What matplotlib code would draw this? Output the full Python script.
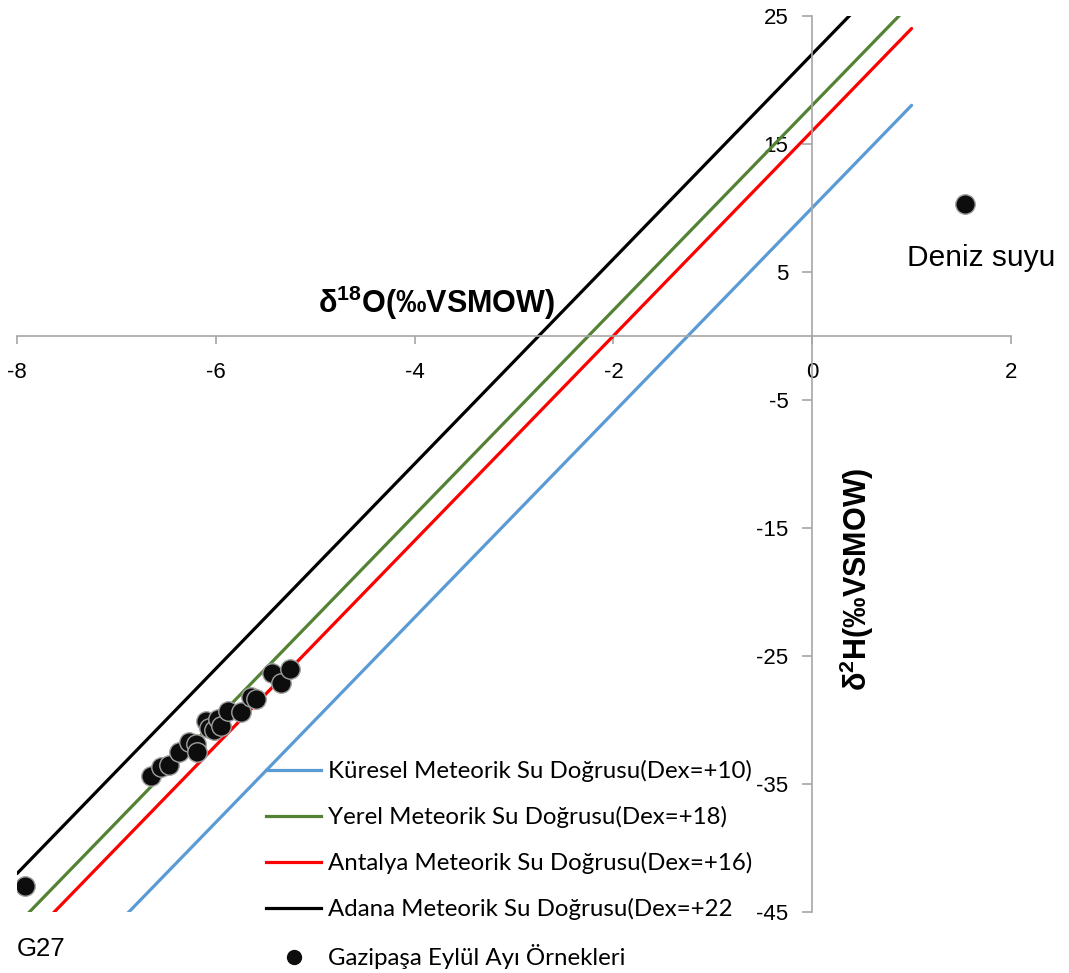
import matplotlib
matplotlib.use("Agg")
import matplotlib.pyplot as plt
import numpy as np
from matplotlib.lines import Line2D

plt.rcParams["mathtext.fontset"] = "custom"
plt.rcParams["mathtext.rm"] = "Liberation Sans"
plt.rcParams["mathtext.bf"] = "Liberation Sans:bold"

# Meteoric water lines: d2H = 8 * d18O + Dex
line_names = [
    "Küresel Meteorik Su Doğrusu(Dex=+10)",
    "Yerel Meteorik Su Doğrusu(Dex=+18)",
    "Antalya Meteorik Su Doğrusu(Dex=+16)",
    "Adana Meteorik Su Doğrusu(Dex=+22",
]
line_dex = [10, 18, 16, 22]
line_colors = ["#5B9BD5", "#548235", "#FF0000", "#000000"]
line_x_range = [-8, 1]

# Gazipaşa September samples (δ18O, δ2H)
sample_d18o = [-6.65, -6.55, -6.47, -6.37, -6.27, -6.20, -6.19, -6.10, -6.07, -6.02,
               -5.98, -5.95, -5.88, -5.75, -5.65, -5.60, -5.43, -5.34, -5.25]
sample_d2h = [-34.4, -33.65, -33.5, -32.5, -31.7, -31.9, -32.5, -30.1, -30.6, -30.8,
              -29.9, -30.5, -29.3, -29.35, -28.2, -28.35, -26.35, -27.1, -26.0]

# Labelled points
g27_point = (-7.92, -43.0)
sea_point = (1.54, 10.3)

x_ticks = [-8, -6, -4, -2, 0, 2]
y_ticks = [25, 15, 5, -5, -15, -25, -35, -45]

W, H = 1069, 973
fig = plt.figure(figsize=(W / 100, H / 100), dpi=100)
ax = fig.add_axes([17 / W, 1 - 912 / H, 994 / W, (912 - 15.7) / H])
ax.set_xlim(-8, 2)
ax.set_ylim(-45, 25)

axis_grey = "#A6A6A6"
for side in ["top", "right"]:
    ax.spines[side].set_visible(False)
ax.spines["left"].set_position(("data", 0))
ax.spines["bottom"].set_position(("data", 0))
ax.spines["left"].set_color(axis_grey)
ax.spines["bottom"].set_color(axis_grey)
ax.spines["left"].set_linewidth(1.2)
ax.spines["bottom"].set_linewidth(1.2)

tick_font = {"family": "Liberation Sans", "size": 16}
ax.set_xticks(x_ticks)
ax.set_yticks(y_ticks)
ax.set_xticklabels([str(v) for v in x_ticks], fontdict=tick_font)
ax.set_yticklabels([str(v) for v in y_ticks], fontdict=tick_font)
ax.tick_params(axis="x", direction="out", length=6, width=1.2, color=axis_grey, pad=13)
ax.tick_params(axis="y", direction="out", length=7, width=1.2, color=axis_grey, pad=10)

handles = []
xs = np.array(line_x_range, dtype=float)
for name, dex, col in zip(line_names, line_dex, line_colors):
    ax.plot(xs, 8 * xs + dex, color=col, lw=2.3, solid_capstyle="round", zorder=2)
    handles.append(Line2D([0], [0], color=col, lw=2.3, label=name))

marker_kw = dict(marker="o", ms=14, mfc="#0D0D0D", mec="#A0A0A0", mew=1.0, ls="none", zorder=4)
ax.plot(sample_d18o, sample_d2h, **marker_kw)
ax.plot([g27_point[0]], [g27_point[1]], **marker_kw)
ax.plot([sea_point[0]], [sea_point[1]], **marker_kw)
handles.append(Line2D([0], [0], marker="o", ms=10, mfc="#0D0D0D", mec="#0D0D0D",
                      ls="none", label="Gazipaşa Eylül Ayı Örnekleri"))

ax.text(1.70, 6.1, "Deniz suyu", fontsize=21.5, family="Liberation Sans",
        ha="center", va="center")
ax.text(-7.76, -47.9, "G27", fontsize=18.5, family="Liberation Sans",
        ha="center", va="center", clip_on=False)

ax.text(-3.78, 2.6, r"δ$^{\mathbf{18}}$O(‰VSMOW)", fontsize=22, fontweight="bold",
        family="Liberation Sans", ha="center", va="center")
ax.text(0.45, -19.0, r"δ$^{\mathbf{2}}$H(‰VSMOW)", fontsize=22, fontweight="bold",
        family="Liberation Sans", ha="center", va="center", rotation=90)

leg = fig.legend(handles=handles, loc="upper left",
                 bbox_to_anchor=(266 / W, 1 - 760 / H),
                 frameon=False, prop={"family": "Lato", "size": 17.3},
                 handlelength=2.3, handletextpad=0.28, labelspacing=1.0,
                 borderpad=0, borderaxespad=0)

fig.savefig("out.png", dpi=100)
